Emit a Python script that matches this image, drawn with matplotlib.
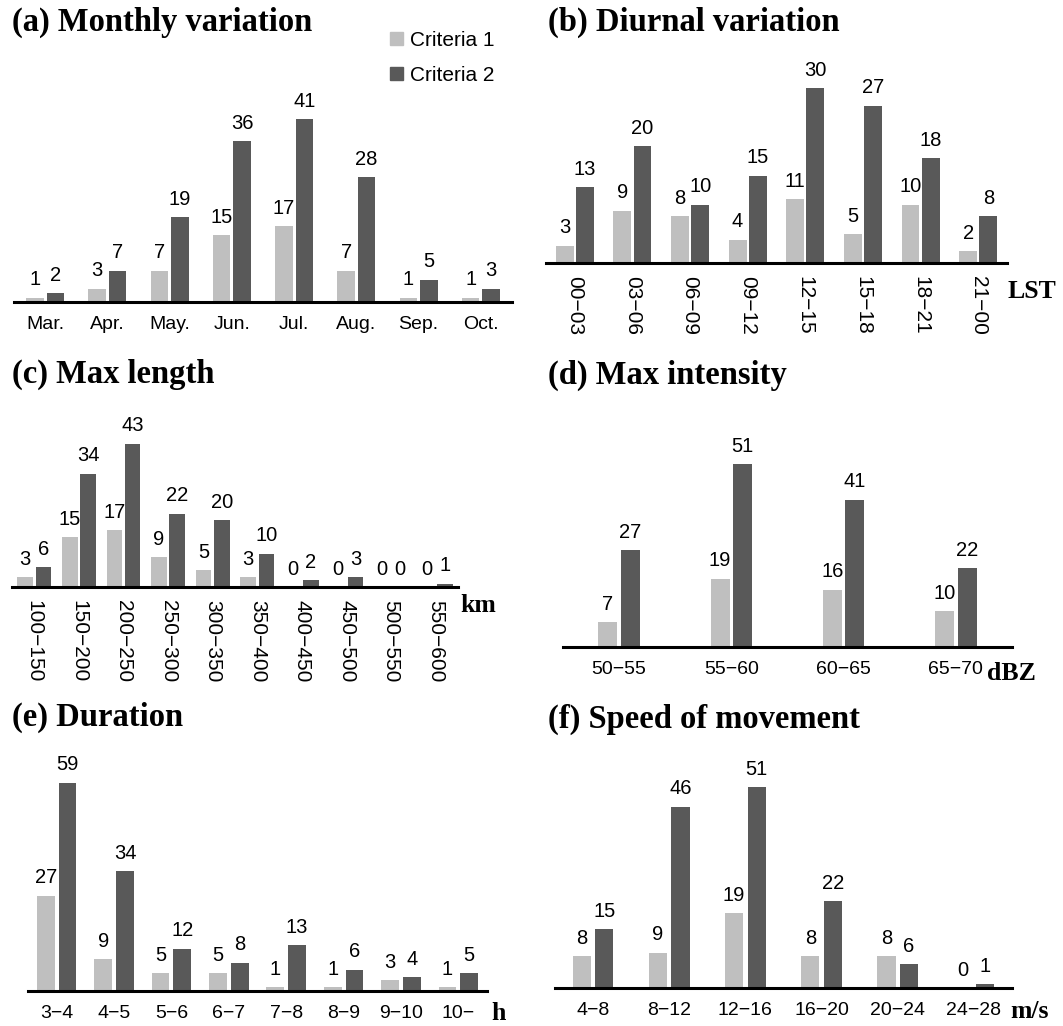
# -*- coding: utf-8 -*-
import matplotlib
matplotlib.use("Agg")
import matplotlib.pyplot as plt
from matplotlib.patches import Patch

W, H = 1063, 1026
LIGHT = "#bfbfbf"
DARK = "#595959"
SANS = "Liberation Sans"
SERIF = "Liberation Serif"

# ---- data ----
months = ["Mar.", "Apr.", "May.", "Jun.", "Jul.", "Aug.", "Sep.", "Oct."]
month_c1 = [1, 3, 7, 15, 17, 7, 1, 1]
month_c2 = [2, 7, 19, 36, 41, 28, 5, 3]

lst_bins = ["00−03", "03−06", "06−09", "09−12", "12−15", "15−18", "18−21", "21−00"]
lst_c1 = [3, 9, 8, 4, 11, 5, 10, 2]
lst_c2 = [13, 20, 10, 15, 30, 27, 18, 8]

length_bins = ["100−150", "150−200", "200−250", "250−300", "300−350",
               "350−400", "400−450", "450−500", "500−550", "550−600"]
length_c1 = [3, 15, 17, 9, 5, 3, 0, 0, 0, 0]
length_c2 = [6, 34, 43, 22, 20, 10, 2, 3, 0, 1]

dbz_bins = ["50−55", "55−60", "60−65", "65−70"]
dbz_c1 = [7, 19, 16, 10]
dbz_c2 = [27, 51, 41, 22]

dur_bins = ["3−4", "4−5", "5−6", "6−7", "7−8", "8−9", "9−10", "10−"]
dur_c1 = [27, 9, 5, 5, 1, 1, 3, 1]
dur_c2 = [59, 34, 12, 8, 13, 6, 4, 5]

speed_bins = ["4−8", "8−12", "12−16", "16−20", "20−24", "24−28"]
speed_c1 = [8, 9, 19, 8, 8, 0]
speed_c2 = [15, 46, 51, 22, 6, 1]


def px_rect(left, right, top, bottom):
    return [left / W, 1 - bottom / H, (right - left) / W, (bottom - top) / H]


def draw_panel(fig, rect, cats, c1, c2, width, offset, ymax, rotate=False):
    ax = fig.add_axes(rect)
    x = list(range(len(cats)))
    xl = [i - offset for i in x]
    xd = [i + offset for i in x]
    ax.bar(xl, c1, width=width, color=LIGHT, edgecolor="none")
    ax.bar(xd, c2, width=width, color=DARK, edgecolor="none")
    for xs, vals in ((xl, c1), (xd, c2)):
        for xi, v in zip(xs, vals):
            ax.annotate(str(v), (xi, v), xytext=(0, 6), textcoords="offset points",
                        ha="center", va="bottom", fontsize=14.5, family=SANS)
    ax.set_xlim(-0.5, len(cats) - 0.5)
    ax.set_ylim(0, ymax)
    ax.set_xticks(x)
    if rotate:
        ax.set_xticklabels(cats, rotation=-90, fontsize=15, family=SANS)
        ax.tick_params(axis="x", length=0, pad=9)
    else:
        ax.set_xticklabels(cats, fontsize=14, family=SANS)
        ax.tick_params(axis="x", length=0, pad=10)
    ax.set_yticks([])
    for s in ("left", "right", "top"):
        ax.spines[s].set_visible(False)
    ax.spines["bottom"].set_linewidth(2.2)
    ax.patch.set_alpha(0)
    return ax


def fig_text(fig, xpx, ypx, s, size, ha="left"):
    fig.text(xpx / W, 1 - ypx / H, s, fontsize=size, family=SERIF,
             fontweight="bold", ha=ha, va="center")


fig = plt.figure(figsize=(W / 100, H / 100), dpi=100)
TS = 23.5   # panel titles
US = 18.5   # unit labels

# (a)
draw_panel(fig, px_rect(14, 512, 80, 302), months, month_c1, month_c2,
           0.28, 0.165, (302 - 80) / 4.46)
fig_text(fig, 12, 22, "(a) Monthly variation", TS)
fig.legend([Patch(color=LIGHT), Patch(color=DARK)], ["Criteria 1", "Criteria 2"],
           loc="upper left", bbox_to_anchor=(390 / W, 1 - 31 / H), frameon=False,
           handlelength=0.6, handleheight=0.6, handletextpad=0.35,
           labelspacing=0.75, borderpad=0, borderaxespad=0,
           prop={"family": SANS, "size": 15})

# (b)
draw_panel(fig, px_rect(546, 1007, 60, 263), lst_bins, lst_c1, lst_c2,
           0.31, 0.175, (263 - 60) / 5.83, rotate=True)
fig_text(fig, 548, 22, "(b) Diurnal variation", TS)
fig_text(fig, 1008, 291, "LST", US)

# (c)
draw_panel(fig, px_rect(12, 458, 420, 587), length_bins, length_c1, length_c2,
           0.35, 0.205, (587 - 420) / 3.33, rotate=True)
fig_text(fig, 12, 374, "(c) Max length", TS)
fig_text(fig, 460, 605, "km", US)

# (d)
draw_panel(fig, px_rect(563, 1012, 420, 647), dbz_bins, dbz_c1, dbz_c2,
           0.17, 0.1, (647 - 420) / 3.59)
fig_text(fig, 548, 375, "(d) Max intensity", TS)
fig_text(fig, 987, 673, "dBZ", US)

# (e)
draw_panel(fig, px_rect(28, 487, 760, 991), dur_bins, dur_c1, dur_c2,
           0.31, 0.19, (991 - 760) / 3.53)
fig_text(fig, 12, 717, "(e) Duration", TS)
fig_text(fig, 491, 1014, "h", US)

# (f)
draw_panel(fig, px_rect(555, 1012, 760, 988), speed_bins, speed_c1, speed_c2,
           0.24, 0.148, (988 - 760) / 3.94)
fig_text(fig, 548, 719, "(f) Speed of movement", TS)
fig_text(fig, 1010, 1012, "m/s", US)

fig.savefig("out.png", dpi=100)
